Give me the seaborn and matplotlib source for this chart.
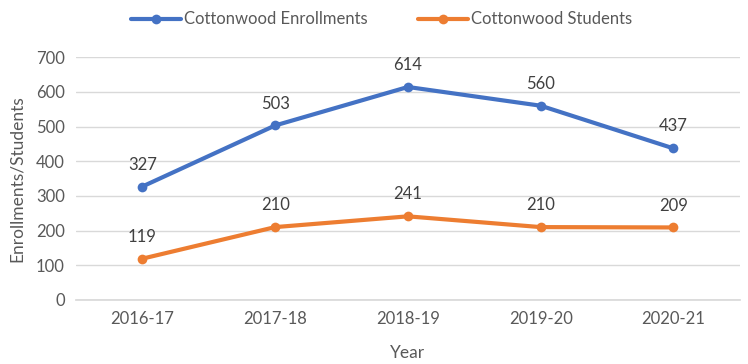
import matplotlib
matplotlib.use("Agg")
import matplotlib.pyplot as plt
import seaborn as sns
import pandas as pd

years = ["2016-17", "2017-18", "2018-19", "2019-20", "2020-21"]
enrollments = [327, 503, 614, 560, 437]
students = [119, 210, 241, 210, 209]
series_names = ["Cottonwood Enrollments", "Cottonwood Students"]
colors = ["#4472C4", "#ED7D31"]

df = pd.DataFrame({
    "Year": years * 2,
    "Value": enrollments + students,
    "Series": [series_names[0]] * len(years) + [series_names[1]] * len(years),
})

sns.set_theme(style="white")
plt.rcParams["font.family"] = ["Lato", "DejaVu Sans"]
text_color = "#595959"

fig = plt.figure(figsize=(7.48, 3.64), dpi=100)
ax = fig.add_axes([0.1016, 0.176, 0.8874, 0.667])

sns.lineplot(data=df, x="Year", y="Value", hue="Series", palette=colors,
             marker="o", markersize=7, markeredgewidth=0, linewidth=3,
             sort=False, ax=ax)

for vals in (enrollments, students):
    for i, v in enumerate(vals):
        ax.annotate(str(v), (i, v), xytext=(0, 10), textcoords="offset points",
                    ha="center", va="bottom", fontsize=12, color="#404040")

ax.set_xlim(-0.5, len(years) - 0.5)
ax.set_ylim(0, 700)
ax.set_yticks(range(0, 701, 100))
ax.grid(axis="y", color="#D9D9D9", linewidth=1)
ax.set_axisbelow(True)
for s in ["top", "right", "left"]:
    ax.spines[s].set_visible(False)
ax.spines["bottom"].set_color("#D9D9D9")
ax.tick_params(axis="both", length=0, labelsize=12, colors=text_color, pad=8)
ax.set_xlabel("Year", fontsize=12.5, color=text_color, labelpad=13)
ax.set_ylabel("Enrollments/Students", fontsize=12.5, color=text_color, labelpad=8)

leg = ax.legend(loc="upper center", bbox_to_anchor=(0.46, 1.25), ncol=2,
                frameon=False, fontsize=12, handlelength=3, columnspacing=3,
                handletextpad=0.2)
for t in leg.get_texts():
    t.set_color(text_color)

fig.savefig("out.png", dpi=100)
